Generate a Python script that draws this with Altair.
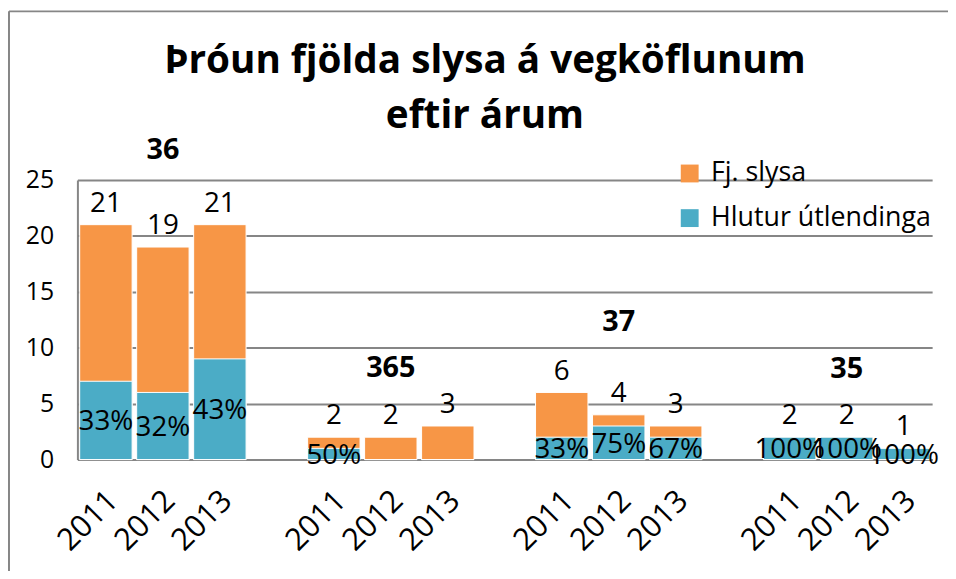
import altair as alt
import pandas as pd

roads = ["36", "365", "37", "35"]
years = ["2011", "2012", "2013"]
totals = [21, 19, 21, 2, 2, 3, 6, 4, 3, 2, 2, 1]
foreign = [7, 6, 9, 1, 0, 0, 2, 3, 2, 2, 2, 1]
pct_labels = ["33%", "32%", "43%", "50%", "", "", "33%", "75%", "67%", "100%", "100%", "100%"]
road_label_y = [27.7, 8.2, 12.3, 8.1]
series = ["Fj. slysa", "Hlutur útlendinga"]
colors = ["#F79646", "#4BACC6"]
title_lines = ["Þróun fjölda slysa á vegköflunum", "eftir árum"]

FONT = "Open Sans"

slots = []
for i, r in enumerate(roads):
    for y in years:
        slots.append(f"{r}|{y}")
    if i < len(roads) - 1:
        slots.append(f"gap{i}")

keys = [f"{r}|{y}" for r in roads for y in years]

bar_rows = []
for k, s in enumerate(keys):
    bar_rows.append({"slot": s, "series": series[0], "value": totals[k]})
for k, s in enumerate(keys):
    bar_rows.append({"slot": s, "series": series[1], "value": foreign[k]})
bars_df = pd.DataFrame(bar_rows)

tot_df = pd.DataFrame({"slot": keys, "value": totals, "label": [str(t) for t in totals]})
pct_df = pd.DataFrame({"slot": keys, "value": [f / 2 for f in foreign], "label": pct_labels})
pct_df = pct_df[pct_df["label"] != ""]
grp_df = pd.DataFrame({"slot": [f"{r}|2012" for r in roads], "value": road_label_y, "label": roads})
title_df = pd.DataFrame({"label": ["\n".join(title_lines)]})

xscale = alt.Scale(domain=slots, paddingInner=0.08, paddingOuter=0.04)
yscale = alt.Scale(domain=[0, 25], nice=False)

xaxis = alt.Axis(title=None, labelAngle=-45, labelFontSize=31,
                 labelExpr="indexof(datum.value, '|') >= 0 ? split(datum.value, '|')[1] : ''",
                 labelPadding=26, labelOffset=-3, grid=False, ticks=False, tickSize=0,
                 domain=True)
yaxis = alt.Axis(title=None, values=[0, 5, 10, 15, 20, 25], labelFontSize=25,
                 labelPadding=24, ticks=False, tickSize=0, grid=True, domain=True)

X = alt.X("slot:N", scale=xscale, sort=slots, axis=xaxis)
Y = alt.Y("value:Q", stack=None, scale=yscale, axis=yaxis)

bars = alt.Chart(bars_df).mark_bar(stroke="white", strokeWidth=1).encode(
    x=X,
    y=Y,
    color=alt.Color("series:N", scale=alt.Scale(domain=series, range=colors),
                    legend=alt.Legend(title=None, orient="none", legendX=604, legendY=-20,
                                      symbolType="square", symbolSize=324, symbolStrokeWidth=0,
                                      labelFontSize=27, labelFont=FONT, labelOffset=8,
                                      labelLimit=500, rowPadding=17, labelColor="#000000")),
)

tot_text = alt.Chart(tot_df).mark_text(font=FONT, fontSize=28, baseline="alphabetic", dy=-13,
                                       color="#000000").encode(x=X, y=Y, text="label:N")

pct_text = alt.Chart(pct_df).mark_text(font=FONT, fontSize=28, baseline="middle", dy=2,
                                       color="#000000").encode(x=X, y=Y, text="label:N")

grp_text = alt.Chart(grp_df).mark_text(font=FONT, fontSize=29, fontWeight="bold", baseline="middle",
                                       color="#000000").encode(x=X, y=Y, text="label:N")

title_text = alt.Chart(title_df).mark_text(font=FONT, fontSize=39, fontWeight="bold",
                                           baseline="alphabetic", align="center", lineBreak="\n",
                                           lineHeight=56, color="#000000").encode(
    x=alt.value(411), y=alt.value(-108), text="label:N"
)

frame_top = alt.Chart(title_df).mark_rule(color="#868686", strokeWidth=2).encode(
    x=alt.value(-69), x2=alt.value(880), y=alt.value(-170)
)
frame_left = alt.Chart(title_df).mark_rule(color="#868686", strokeWidth=2).encode(
    x=alt.value(-69), y=alt.value(-170), y2=alt.value(420)
)

chart = alt.layer(frame_top, frame_left, bars, tot_text, pct_text, grp_text, title_text).properties(
    width=862,
    height=282,
    autosize=alt.AutoSizeParams(type="none"),
    padding={"left": 70, "top": 171, "right": 16, "bottom": 110},
).configure_view(stroke=None).configure_axis(
    domainColor="#868686", domainWidth=2, gridColor="#868686", gridWidth=2,
    labelFont=FONT, labelColor="#000000"
)

chart.save("out.html", embed_options={"renderer": "svg", "actions": False})
